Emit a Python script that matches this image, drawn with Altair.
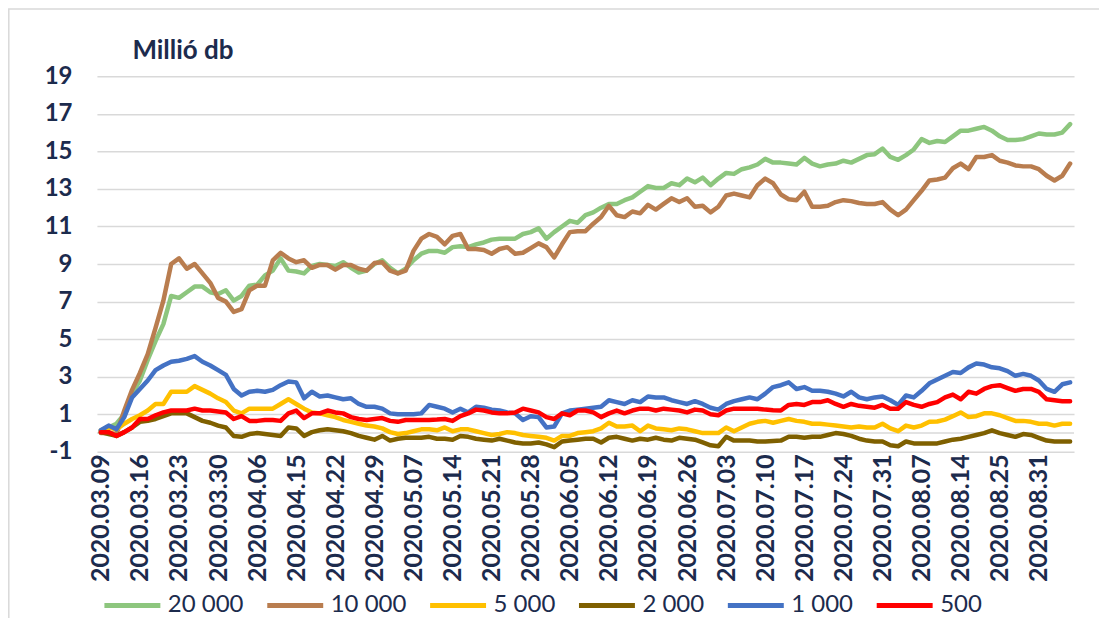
import altair as alt
import pandas as pd

# ---- categories: Hungarian business days 2020.03.09 - 2020.09.04 ----
holidays = ["2020-04-10", "2020-04-13", "2020-05-01", "2020-06-01", "2020-08-20", "2020-08-21"]
extra_workdays = ["2020-08-29"]
_days = [d for d in pd.bdate_range("2020-03-09", "2020-09-04") if d.strftime("%Y-%m-%d") not in holidays]
_days += [pd.Timestamp(d) for d in extra_workdays]
dates = [d.strftime("%Y.%m.%d") for d in sorted(_days)]
tick_labels = dates[::5]

series_names = ["20 000", "10 000", "5 000", "2 000", "1 000", "500"]
series_colors = ["#8DC67E", "#B97D4F", "#FFC000", "#7F6000", "#4472C4", "#FF0000"]

s20000 = [0.1, 0.3, 0.5, 1.0, 2.1, 2.8, 3.9, 4.9, 5.8, 7.3,
          7.2, 7.5, 7.8, 7.8, 7.5, 7.4, 7.6, 7.05, 7.3, 7.85,
          7.9, 8.4, 8.65, 9.3, 8.65, 8.6, 8.5, 8.9, 9.0, 8.95,
          8.9, 9.1, 8.8, 8.55, 8.65, 9.0, 9.2, 8.8, 8.5, 8.75,
          9.2, 9.55, 9.7, 9.7, 9.6, 9.9, 9.95, 9.9, 10.05, 10.15,
          10.3, 10.35, 10.35, 10.35, 10.6, 10.7, 10.9, 10.35, 10.7, 11.0,
          11.3, 11.2, 11.6, 11.75, 12.0, 12.2, 12.2, 12.4, 12.55, 12.85,
          13.15, 13.05, 13.05, 13.3, 13.2, 13.55, 13.35, 13.6, 13.2, 13.55,
          13.85, 13.8, 14.05, 14.15, 14.3, 14.6, 14.4, 14.4, 14.35, 14.3,
          14.65, 14.35, 14.2, 14.3, 14.35, 14.5, 14.4, 14.6, 14.8, 14.85,
          15.15, 14.7, 14.55, 14.8, 15.1, 15.65, 15.45, 15.55, 15.5, 15.8,
          16.1, 16.1, 16.2, 16.3, 16.1, 15.8, 15.6, 15.6, 15.65, 15.8,
          15.95, 15.9, 15.9, 16.0, 16.45]

s10000 = [0.0, 0.0, -0.05, 1.2, 2.3, 3.2, 4.2, 5.6, 7.05, 9.0,
          9.3, 8.75, 9.0, 8.5, 8.0, 7.2, 7.0, 6.45, 6.6, 7.6,
          7.85, 7.85, 9.2, 9.6, 9.3, 9.1, 9.2, 8.8, 8.95, 8.95,
          8.7, 8.95, 8.95, 8.75, 8.65, 9.05, 9.1, 8.65, 8.5, 8.65,
          9.7, 10.35, 10.6, 10.45, 10.05, 10.5, 10.6, 9.8, 9.8, 9.75,
          9.55, 9.8, 9.9, 9.55, 9.6, 9.85, 10.1, 9.9, 9.35, 10.05,
          10.7, 10.75, 10.75, 11.15, 11.5, 12.1, 11.6, 11.5, 11.8, 11.7,
          12.15, 11.9, 12.2, 12.5, 12.3, 12.5, 12.05, 12.1, 11.75, 12.05,
          12.65, 12.75, 12.65, 12.55, 13.2, 13.55, 13.3, 12.7, 12.45, 12.4,
          12.85, 12.05, 12.05, 12.1, 12.3, 12.4, 12.35, 12.25, 12.2, 12.2,
          12.3, 11.9, 11.6, 11.9, 12.4, 12.9, 13.45, 13.5, 13.6, 14.1,
          14.35, 14.05, 14.7, 14.7, 14.8, 14.5, 14.4, 14.25, 14.2, 14.2,
          14.05, 13.7, 13.45, 13.7, 14.35]

s5000 = [0.15, 0.3, 0.2, 0.5, 0.75, 0.95, 1.2, 1.55, 1.55, 2.2,
         2.2, 2.2, 2.5, 2.3, 2.1, 1.85, 1.65, 1.2, 1.05, 1.3,
         1.3, 1.3, 1.3, 1.55, 1.8, 1.55, 1.3, 1.1, 1.05, 0.95,
         0.85, 0.7, 0.6, 0.5, 0.4, 0.35, 0.25, 0.05, -0.05, 0.0,
         0.1, 0.2, 0.2, 0.15, 0.3, 0.1, 0.2, 0.2, 0.1, 0.0,
         -0.1, -0.05, 0.05, 0.0, -0.1, -0.15, -0.2, -0.25, -0.4, -0.15,
         -0.15, 0.0, 0.05, 0.1, 0.25, 0.55, 0.35, 0.35, 0.4, 0.1,
         0.4, 0.25, 0.2, 0.15, 0.25, 0.2, 0.1, 0.0, 0.0, 0.0,
         0.3, 0.1, 0.3, 0.5, 0.6, 0.65, 0.55, 0.65, 0.75, 0.65,
         0.6, 0.5, 0.5, 0.45, 0.4, 0.35, 0.3, 0.35, 0.3, 0.3,
         0.5, 0.25, 0.1, 0.4, 0.3, 0.4, 0.6, 0.62, 0.72, 0.9,
         1.1, 0.85, 0.9, 1.05, 1.05, 0.95, 0.8, 0.65, 0.65, 0.6,
         0.5, 0.5, 0.4, 0.5, 0.5]

s2000 = [0.05, -0.05, -0.15, 0.05, 0.3, 0.6, 0.65, 0.75, 0.9, 1.05,
         1.05, 1.05, 0.85, 0.65, 0.55, 0.4, 0.3, -0.15, -0.2, -0.05,
         0.0, -0.05, -0.1, -0.15, 0.3, 0.25, -0.15, 0.05, 0.15, 0.2,
         0.15, 0.1, 0.0, -0.15, -0.25, -0.35, -0.15, -0.4, -0.3, -0.25,
         -0.25, -0.25, -0.2, -0.3, -0.3, -0.35, -0.15, -0.2, -0.3, -0.35,
         -0.4, -0.3, -0.4, -0.5, -0.55, -0.55, -0.5, -0.6, -0.75, -0.45,
         -0.4, -0.35, -0.3, -0.3, -0.5, -0.25, -0.2, -0.3, -0.4, -0.3,
         -0.35, -0.25, -0.35, -0.4, -0.25, -0.3, -0.35, -0.5, -0.65, -0.7,
         -0.2, -0.4, -0.4, -0.4, -0.45, -0.45, -0.42, -0.4, -0.2, -0.2,
         -0.25, -0.2, -0.2, -0.1, 0.0, -0.05, -0.15, -0.3, -0.4, -0.45,
         -0.45, -0.65, -0.7, -0.45, -0.55, -0.55, -0.55, -0.55, -0.45, -0.35,
         -0.3, -0.2, -0.1, 0.0, 0.15, 0.0, -0.1, -0.2, -0.05, -0.1,
         -0.25, -0.4, -0.45, -0.45, -0.45]

s1000 = [0.15, 0.4, 0.2, 0.85, 1.9, 2.35, 2.8, 3.35, 3.6, 3.8,
         3.85, 3.95, 4.1, 3.8, 3.6, 3.35, 3.1, 2.35, 2.0, 2.2,
         2.25, 2.2, 2.3, 2.55, 2.75, 2.7, 1.85, 2.2, 1.95, 2.0,
         1.9, 1.8, 1.85, 1.55, 1.4, 1.4, 1.3, 1.05, 1.0, 1.0,
         1.0, 1.05, 1.5, 1.4, 1.3, 1.1, 1.3, 1.1, 1.4, 1.35,
         1.25, 1.2, 1.1, 1.05, 0.7, 0.9, 0.85, 0.3, 0.35, 1.05,
         1.2, 1.25, 1.3, 1.35, 1.4, 1.75, 1.65, 1.55, 1.75, 1.65,
         1.95, 1.9, 1.9, 1.75, 1.65, 1.55, 1.7, 1.55, 1.35, 1.25,
         1.55, 1.7, 1.8, 1.9, 1.8, 2.1, 2.45, 2.55, 2.7, 2.35,
         2.45, 2.25, 2.25, 2.2, 2.1, 1.95, 2.2, 1.9, 1.8, 1.9,
         1.95, 1.75, 1.5, 2.0, 1.9, 2.25, 2.65, 2.85, 3.05, 3.25,
         3.2, 3.5, 3.7, 3.65, 3.5, 3.45, 3.3, 3.05, 3.15, 3.05,
         2.8, 2.35, 2.2, 2.6, 2.7]

s500 = [0.05, 0.05, -0.15, 0.05, 0.3, 0.75, 0.75, 0.95, 1.1, 1.2,
        1.2, 1.2, 1.3, 1.2, 1.2, 1.15, 1.1, 0.75, 0.9, 0.65,
        0.65, 0.7, 0.7, 0.65, 1.05, 1.2, 0.8, 1.05, 1.05, 1.2,
        1.1, 1.05, 0.85, 0.75, 0.7, 0.75, 0.8, 0.65, 0.6, 0.7,
        0.7, 0.7, 0.7, 0.72, 0.75, 0.65, 0.9, 1.05, 1.25, 1.2,
        1.1, 1.05, 1.05, 1.1, 1.3, 1.2, 1.1, 0.85, 0.75, 1.05,
        0.95, 1.2, 1.2, 1.1, 0.85, 1.05, 1.2, 1.05, 1.2, 1.3,
        1.3, 1.2, 1.3, 1.25, 1.2, 1.1, 1.25, 1.2, 1.0, 0.95,
        1.2, 1.3, 1.3, 1.3, 1.3, 1.25, 1.22, 1.2, 1.5, 1.55,
        1.5, 1.65, 1.65, 1.75, 1.55, 1.4, 1.55, 1.45, 1.4, 1.35,
        1.5, 1.3, 1.3, 1.65, 1.5, 1.4, 1.55, 1.65, 1.9, 2.05,
        1.8, 2.2, 2.1, 2.35, 2.5, 2.55, 2.4, 2.25, 2.35, 2.35,
        2.2, 1.8, 1.75, 1.7, 1.7]

y_ticks = [-1, 1, 3, 5, 7, 9, 11, 13, 15, 17, 19]

all_series = [s20000, s10000, s5000, s2000, s1000, s500]
rows = []
for name, vals in zip(series_names, all_series):
    for d, v in zip(dates, vals):
        rows.append({"date": d, "value": v, "series": name})
df = pd.DataFrame(rows)

TXT = "#1C2B4D"
FONT = "Lato"

x_enc = alt.X(
    "date:O",
    sort=dates,
    scale=alt.Scale(type="point", padding=0.5),
    axis=alt.Axis(
        values=tick_labels, labelAngle=270, labelFont=FONT, labelFontSize=25,
        labelFontWeight="bold", labelColor=TXT, ticks=False, domain=False,
        grid=False, title=None, labelPadding=2, labelOverlap=False,
    ),
)
y_enc = alt.Y(
    "value:Q",
    scale=alt.Scale(domain=[-1, 19], nice=False, zero=False),
    axis=alt.Axis(
        values=y_ticks, tickCount=30, grid=True, gridColor="#D9D9D9", gridWidth=1.5,
        domain=False, ticks=False, labelPadding=25, labelFont=FONT,
        labelFontSize=24, labelFontWeight="bold", labelColor=TXT,
        labelOverlap=False, labelExpr="'' + datum.value",
        title="Millió db", titleAngle=0, titleX=35, titleY=-18,
        titleAlign="left", titleBaseline="alphabetic", titleFont=FONT,
        titleFontSize=26, titleFontWeight="bold", titleColor=TXT,
    ),
)

lines = alt.Chart(df).mark_line(strokeWidth=4.5, strokeJoin="round", strokeCap="round").encode(
    x=x_enc,
    y=y_enc,
    color=alt.Color(
        "series:N",
        scale=alt.Scale(domain=series_names, range=series_colors),
        legend=alt.Legend(
            title=None, orient="none", legendX=5, legendY=499, direction="horizontal",
            symbolType="stroke", symbolSize=3136, symbolStrokeWidth=5,
            labelFont=FONT, labelFontSize=24, labelColor=TXT,
            columnPadding=13, labelOffset=5, padding=0,
        ),
    ),
)

zero_rule = alt.Chart(pd.DataFrame({"value": [0]})).mark_rule(
    color="#D9D9D9", strokeWidth=1.5
).encode(y=alt.Y("value:Q"))

border = alt.Chart(pd.DataFrame({"a": [0]})).mark_rect(
    filled=False, stroke="#D9D9D9", strokeWidth=1.5
).encode(
    x=alt.value(-88.2), x2=alt.value(2000), y=alt.value(-67.2), y2=alt.value(2000)
)

chart = alt.layer(border, zero_rule, lines).properties(
    width=978,
    height=376,
    padding={"left": 89, "top": 68, "right": 25, "bottom": 166},
    autosize=alt.AutoSizeParams(type="none"),
    background="white",
).configure_view(strokeWidth=0)

chart.save("out.html", embed_options={"renderer": "svg", "actions": False})
